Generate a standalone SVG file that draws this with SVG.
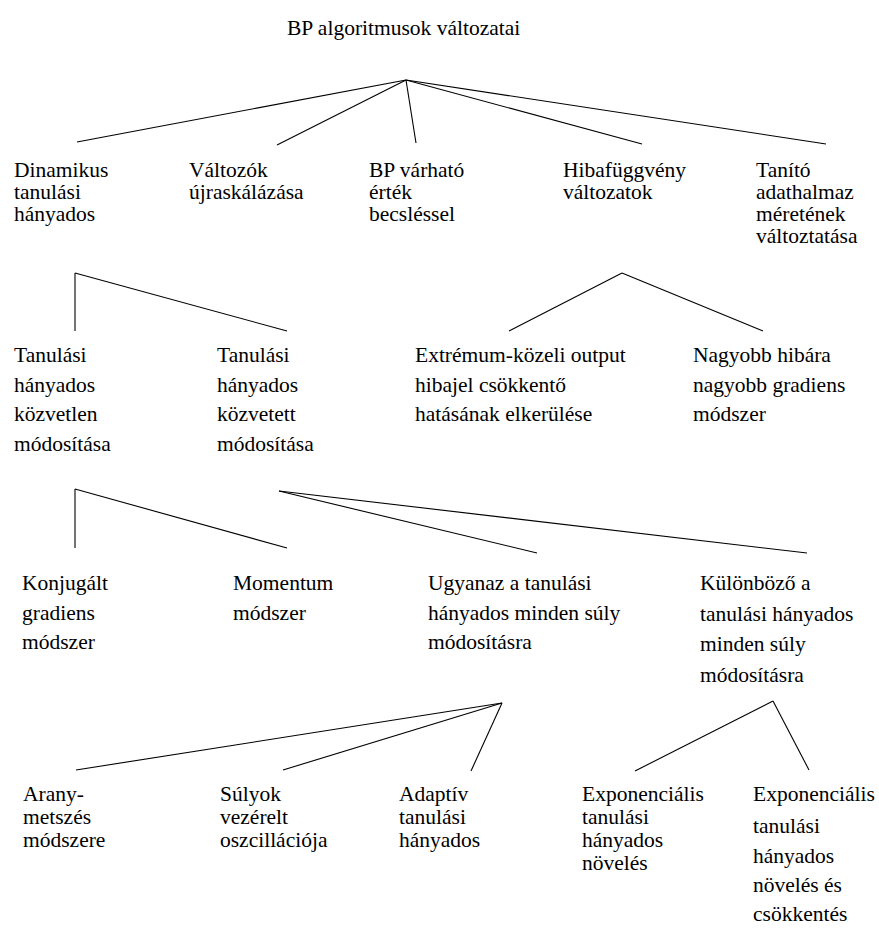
<svg xmlns="http://www.w3.org/2000/svg" width="879" height="929" viewBox="0 0 879 929">
  <style>
    .edge { stroke: #000; stroke-width: 1.1; fill: none; }
  </style>
  <rect width="879" height="929" fill="#fff"/>

  <!-- connectors -->
  <g id="connectors">
    <line class="edge" x1="406" y1="80" x2="77" y2="142"/>
    <line class="edge" x1="406" y1="80" x2="277" y2="145"/>
    <line class="edge" x1="406" y1="80" x2="416" y2="143"/>
    <line class="edge" x1="406" y1="80" x2="642" y2="144"/>
    <line class="edge" x1="406" y1="80" x2="826" y2="144"/>

    <line class="edge" x1="75" y1="273" x2="75" y2="331"/>
    <line class="edge" x1="75" y1="273" x2="287" y2="331"/>
    <line class="edge" x1="622" y1="273" x2="509" y2="331"/>
    <line class="edge" x1="622" y1="273" x2="763" y2="331"/>

    <line class="edge" x1="75" y1="489" x2="75" y2="548"/>
    <line class="edge" x1="75" y1="489" x2="287" y2="548"/>
    <line class="edge" x1="279" y1="491" x2="537" y2="553"/>
    <line class="edge" x1="279" y1="491" x2="807" y2="553"/>

    <line class="edge" x1="502" y1="703" x2="76" y2="770"/>
    <line class="edge" x1="502" y1="703" x2="283" y2="770"/>
    <line class="edge" x1="502" y1="703" x2="471" y2="771"/>
    <line class="edge" x1="773" y1="701" x2="635" y2="771"/>
    <line class="edge" x1="773" y1="701" x2="809" y2="770"/>
  </g>

  <g id="labels" font-family="Liberation Serif, Times New Roman, Times, DejaVu Serif, serif" font-size="21.5" fill="#000">
    <!-- root -->
    <g id="root"><text x="287" y="35">BP algoritmusok változatai</text></g>

    <!-- level 1 -->
    <g id="dinamikus"><text x="14" y="177">Dinamikus</text><text x="14" y="199">tanulási</text><text x="14" y="221">hányados</text></g>
    <g id="valtozok"><text x="189" y="177">Változók</text><text x="189" y="199">újraskálázása</text></g>
    <g id="bp-varhato"><text x="369" y="177">BP várható</text><text x="369" y="199">érték</text><text x="369" y="221">becsléssel</text></g>
    <g id="hibafuggveny"><text x="563" y="177">Hibafüggvény</text><text x="563" y="199">változatok</text></g>
    <g id="tanito"><text x="756" y="177">Tanító</text><text x="756" y="199">adathalmaz</text><text x="756" y="221">méretének</text><text x="756" y="243">változtatása</text></g>

    <!-- level 2 -->
    <g id="kozvetlen"><text x="14" y="362">Tanulási</text><text x="14" y="391.5">hányados</text><text x="14" y="421">közvetlen</text><text x="14" y="450.5">módosítása</text></g>
    <g id="kozvetett"><text x="217" y="362">Tanulási</text><text x="217" y="391.5">hányados</text><text x="217" y="421">közvetett</text><text x="217" y="450.5">módosítása</text></g>
    <g id="extremum"><text x="415" y="362">Extrémum-közeli output</text><text x="415" y="391.5">hibajel csökkentő</text><text x="415" y="421">hatásának elkerülése</text></g>
    <g id="nagyobb"><text x="693" y="362">Nagyobb hibára</text><text x="693" y="391.5">nagyobb gradiens</text><text x="693" y="421">módszer</text></g>

    <!-- level 3 -->
    <g id="konjugalt"><text x="22" y="590">Konjugált</text><text x="22" y="619.5">gradiens</text><text x="22" y="649">módszer</text></g>
    <g id="momentum"><text x="233" y="590">Momentum</text><text x="233" y="619.5">módszer</text></g>
    <g id="ugyanaz"><text x="428" y="590">Ugyanaz a tanulási</text><text x="428" y="619.5">hányados minden súly</text><text x="428" y="649">módosításra</text></g>
    <g id="kulonbozo"><text x="700" y="590">Különböző a</text><text x="700" y="620.5">tanulási hányados</text><text x="700" y="651">minden súly</text><text x="700" y="681.5">módosításra</text></g>

    <!-- level 4 -->
    <g id="aranymetszes"><text x="23" y="801">Arany-</text><text x="23" y="824">metszés</text><text x="23" y="847">módszere</text></g>
    <g id="sulyok"><text x="220" y="801">Súlyok</text><text x="220" y="824">vezérelt</text><text x="220" y="847">oszcillációja</text></g>
    <g id="adaptiv"><text x="399" y="801">Adaptív</text><text x="399" y="824">tanulási</text><text x="399" y="847">hányados</text></g>
    <g id="exp-noveles"><text x="582" y="801">Exponenciális</text><text x="582" y="824">tanulási</text><text x="582" y="847">hányados</text><text x="582" y="870">növelés</text></g>
    <g id="exp-noveles-csokkentes"><text x="753" y="801">Exponenciális</text><text x="753" y="833">tanulási</text><text x="753" y="863">hányados</text><text x="753" y="892">növelés és</text><text x="753" y="921">csökkentés</text></g>
  </g>
</svg>
